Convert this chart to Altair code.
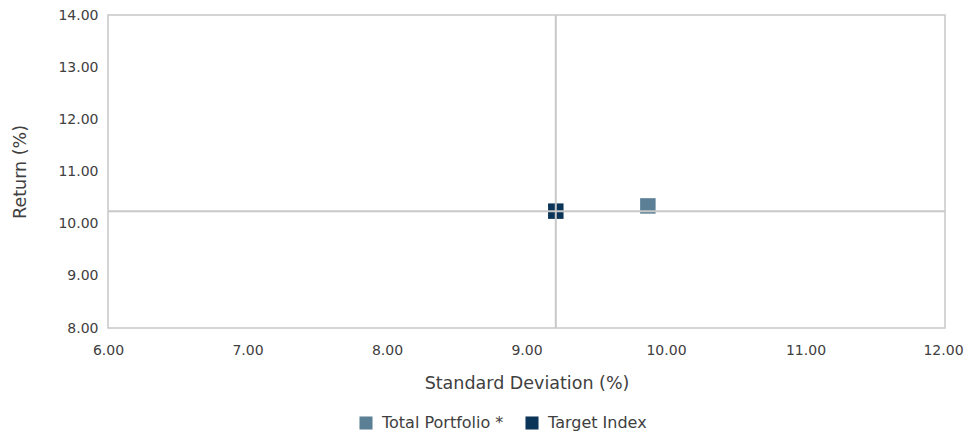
import altair as alt
import pandas as pd

series = ["Total Portfolio *", "Target Index"]
std_dev = [9.87, 9.21]
returns = [10.34, 10.24]
colors = ["#5B7F95", "#0B3558"]

df = pd.DataFrame({"series": series, "sd": std_dev, "ret": returns})
ref = df[df["series"] == "Target Index"]

FONT = "DejaVu Sans"
TXT = "#404040"
GRID = "#C8C8C8"

xs = alt.Scale(domain=[6, 12], nice=False, zero=False)
ys = alt.Scale(domain=[8, 14], nice=False, zero=False)

points = alt.Chart(df).mark_point(shape="square", filled=True, size=240, opacity=1).encode(
    x=alt.X("sd:Q", scale=xs, title="Standard Deviation (%)",
            axis=alt.Axis(format=".2f", values=[6, 7, 8, 9, 10, 11, 12], grid=False, domain=False,
                          ticks=False, labelFlush=False, labelPadding=15, titlePadding=17,
                          labelOffset={"expr": "datum.value == 12 ? -2 : 0"})),
    y=alt.Y("ret:Q", scale=ys, title="Return  (%)",
            axis=alt.Axis(format=".2f", values=[8, 9, 10, 11, 12, 13, 14], grid=False, domain=False,
                          ticks=False, labelFlush=False, labelPadding=10, titlePadding=28)),
    color=alt.Color("series:N", scale=alt.Scale(domain=series, range=colors),
                    legend=alt.Legend(title=None, orient="none", direction="horizontal",
                                      legendX=250, legendY=400, symbolType="square",
                                      symbolSize=170, symbolStrokeWidth=0, labelOffset=8,
                                      columnPadding=20, labelFontSize=16)),
)

vrule = alt.Chart(ref).mark_rule(color=GRID, strokeWidth=2).encode(x=alt.X("sd:Q", scale=xs))
hrule = alt.Chart(ref).mark_rule(color=GRID, strokeWidth=2).encode(y=alt.Y("ret:Q", scale=ys))

chart = alt.layer(points, vrule, hrule).properties(
    width=837, height=313,
    padding={"left": 100, "top": 7, "right": 19, "bottom": 107},
    autosize=alt.AutoSizeParams(type="none"),
).configure_view(stroke=GRID, strokeWidth=1.5).configure_axis(
    labelFont=FONT, titleFont=FONT, labelColor=TXT, titleColor=TXT,
    labelFontSize=14, titleFontSize=17.5, titleFontWeight="normal",
).configure_legend(labelFont=FONT, labelColor=TXT)

chart.save("out.html", embed_options={"renderer": "svg", "actions": False})
